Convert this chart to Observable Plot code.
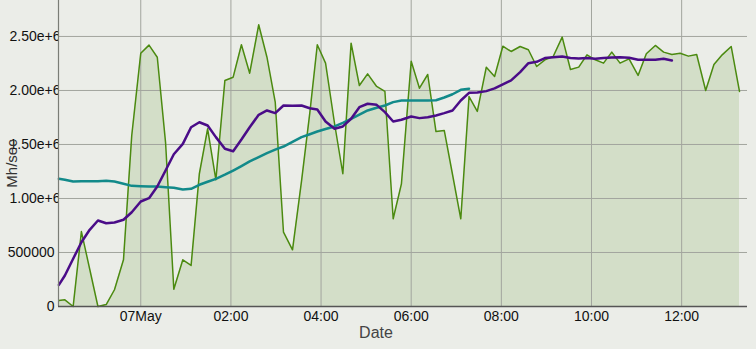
<!DOCTYPE html>
<html><head><meta charset="utf-8">
<script src="https://cdn.jsdelivr.net/npm/d3@7"></script>
<script src="https://cdn.jsdelivr.net/npm/@observablehq/plot@0.6"></script>
<style>html,body{margin:0;padding:0;background:#ebede8;overflow:hidden;}</style>
</head><body><div id="chart"></div>
<script>
const times = ["2014-05-06 22:11","2014-05-06 22:19","2014-05-06 22:30","2014-05-06 22:41","2014-05-06 22:52","2014-05-06 23:03","2014-05-06 23:14","2014-05-06 23:25","2014-05-06 23:37","2014-05-06 23:48",
"2014-05-07 00:00","2014-05-07 00:11","2014-05-07 00:22","2014-05-07 00:33","2014-05-07 00:44","2014-05-07 00:56","2014-05-07 01:07","2014-05-07 01:18","2014-05-07 01:29","2014-05-07 01:40",
"2014-05-07 01:52","2014-05-07 02:03","2014-05-07 02:14","2014-05-07 02:25","2014-05-07 02:37","2014-05-07 02:48","2014-05-07 02:59","2014-05-07 03:10","2014-05-07 03:22","2014-05-07 03:34",
"2014-05-07 03:45","2014-05-07 03:55","2014-05-07 04:06","2014-05-07 04:18","2014-05-07 04:29","2014-05-07 04:40","2014-05-07 04:51","2014-05-07 05:02","2014-05-07 05:14","2014-05-07 05:25",
"2014-05-07 05:36","2014-05-07 05:47","2014-05-07 06:00","2014-05-07 06:11","2014-05-07 06:22","2014-05-07 06:33","2014-05-07 06:44","2014-05-07 06:55","2014-05-07 07:06","2014-05-07 07:17",
"2014-05-07 07:28","2014-05-07 07:40","2014-05-07 07:51","2014-05-07 08:02","2014-05-07 08:13","2014-05-07 08:25","2014-05-07 08:36","2014-05-07 08:47","2014-05-07 08:58","2014-05-07 09:09",
"2014-05-07 09:21","2014-05-07 09:32","2014-05-07 09:43","2014-05-07 09:54","2014-05-07 10:05","2014-05-07 10:16","2014-05-07 10:27","2014-05-07 10:38","2014-05-07 10:50","2014-05-07 11:02",
"2014-05-07 11:13","2014-05-07 11:25","2014-05-07 11:36","2014-05-07 11:47","2014-05-07 11:58","2014-05-07 12:09","2014-05-07 12:20","2014-05-07 12:32","2014-05-07 12:43","2014-05-07 12:54",
"2014-05-07 13:06","2014-05-07 13:17"];

const hashrate = [56000,62000,0,694000,347000,0,18000,155000,432000,1583000,
2345000,2420000,2308000,1520000,160000,432000,380000,1229000,1645000,1173000,
2093000,2123000,2423000,2160000,2608000,2308000,1892000,688000,525000,1160000,
1790000,2423000,2253000,1692000,1229000,2438000,2046000,2154000,2037000,1991000,
812000,1136000,2271000,2021000,2148000,1620000,1630000,1222000,812000,1944000,
1806000,2216000,2130000,2410000,2361000,2407000,2377000,2222000,2284000,2315000,
2494000,2194000,2216000,2330000,2284000,2253000,2355000,2253000,2293000,2139000,
2340000,2417000,2355000,2333000,2345000,2318000,2333000,2000000,2241000,2330000,
2407000,1991000];

const avgShort = [200000,287000,442000,595000,710000,796000,771000,778000,803000,873000,
972000,1003000,1111000,1259000,1410000,1506000,1660000,1706000,1676000,1568000,
1460000,1438000,1546000,1660000,1775000,1815000,1790000,1861000,1858000,1861000,
1836000,1824000,1713000,1645000,1667000,1738000,1845000,1877000,1867000,1799000,
1713000,1729000,1759000,1744000,1753000,1769000,1790000,1815000,1907000,1978000,
1981000,1994000,2019000,2056000,2093000,2170000,2253000,2265000,2300000,2308000,
2315000,2300000,2296000,2300000,2293000,2300000,2305000,2308000,2303000,2284000,
2284000,2284000,2293000,2278000];

const avgLong = [1182000,1173000,1157000,1160000,1160000,1160000,1164000,1157000,1136000,1117000,
1114000,1111000,1111000,1105000,1099000,1083000,1090000,1127000,1155000,1182000,
1220000,1259000,1300000,1343000,1383000,1420000,1452000,1481000,1525000,1568000,
1595000,1620000,1643000,1667000,1700000,1738000,1777000,1815000,1840000,1861000,
1892000,1907000,1907000,1907000,1907000,1910000,1935000,1965000,2006000,2016000];

const xDomainText = ["2014-05-06 22:10:30","2014-05-07 13:27:40"];
const xTickTimes = ["2014-05-07 00:00","2014-05-07 02:00","2014-05-07 04:00","2014-05-07 06:00","2014-05-07 08:00","2014-05-07 10:00","2014-05-07 12:00"];
const yTicks = [0,500000,1000000,1500000,2000000,2500000];

const parse = d3.utcParse("%Y-%m-%d %H:%M");
const parseS = d3.utcParse("%Y-%m-%d %H:%M:%S");
const dates = times.map(parse);
const main = dates.map((d,i)=>({date:d, v:hashrate[i]}));
const shortS = avgShort.map((v,i)=>({date:dates[i], v}));
const longS = avgLong.map((v,i)=>({date:dates[i], v}));
const xDomain = xDomainText.map(parseS);
const xTicks = xTickTimes.map(parse);

const xFmt = d => (d.getUTCHours()===0 && d.getUTCMinutes()===0) ? d3.utcFormat("%d%b")(d) : d3.utcFormat("%H:%M")(d);
const yFmt = v => v < 1000000 ? String(v) : d3.format(".2e")(v);

const grid = "#a2a59e";
const chart = Plot.plot({
  width: 756, height: 349,
  marginLeft: 58, marginRight: 9, marginTop: 0, marginBottom: 43,
  style: {background: "#ebede8", fontFamily: "'Liberation Sans', Arial, sans-serif", fontSize: "14px", color: "#111", overflow: "visible"},
  x: {type: "utc", domain: xDomain},
  y: {domain: [0, 2833000]},
  marks: [
    Plot.axisY(yTicks.filter(v => v >= 1000000), {tickSize: 0, tickPadding: -2, tickFormat: yFmt, label: null, fill: "#111"}),
    Plot.axisY(yTicks.filter(v => v < 1000000), {tickSize: 0, tickPadding: 4, tickFormat: yFmt, label: null, fill: "#111"}),
    Plot.frame({fill: "#ebede8", stroke: null}),
    Plot.areaY(main, {x: "date", y: "v", fill: "#d3dec8"}),
    Plot.ruleX(xTicks, {stroke: grid, strokeWidth: 1}),
    Plot.ruleY(yTicks, {stroke: grid, strokeWidth: 1}),
    Plot.lineY(main, {x: "date", y: "v", stroke: "#4b8a10", strokeWidth: 1.5}),
    Plot.lineY(longS, {x: "date", y: "v", stroke: "#128a8a", strokeWidth: 2.5}),
    Plot.lineY(shortS, {x: "date", y: "v", stroke: "#4a0c88", strokeWidth: 2.5}),
    Plot.ruleX([xDomain[0]], {stroke: "#7a7d76", strokeWidth: 1.2}),
    Plot.ruleY([0], {stroke: "#555", strokeWidth: 1.5}),
    Plot.axisX(xTicks, {tickSize: 0, tickPadding: 5, tickFormat: xFmt, label: null, fill: "#111"}),
    Plot.text(["Mh/sec"], {frameAnchor: "left", textAnchor: "middle", dx: -46, dy: 10, rotate: -90, fontSize: 15, fill: "#333"}),
    Plot.text(["Date"], {frameAnchor: "bottom", dx: -27, dy: 31, fontSize: 16, fill: "#444"})
  ]
});
document.getElementById("chart").appendChild(chart);
</script>
</body></html>
